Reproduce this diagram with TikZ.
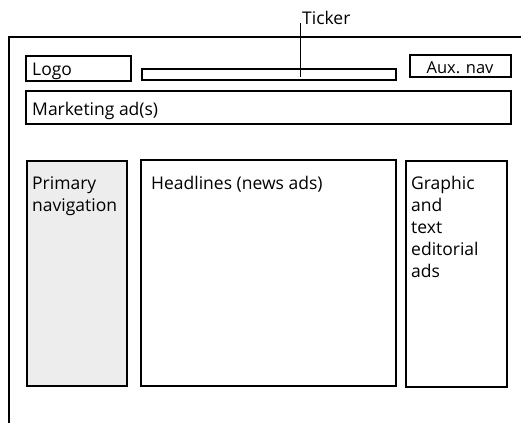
\documentclass[tikz,border=0pt]{standalone}
\usepackage{fontspec}
\setmainfont{Open Sans}
\begin{document}
\begin{tikzpicture}[x=1pt,y=-1pt,
  box/.style={draw=black,line width=1.6pt,inner sep=0pt},
  lbl/.style={font=\fontsize{17.5}{22}\selectfont,inner sep=0pt,align=left},
  navfill/.style={fill=black!7}]
  \useasboundingbox (0,0) rectangle (521,423);
  % page frame, cut off at the right and bottom
  \draw[line width=1.6pt] (9,423) -- (9,37) -- (521,37);
  % header row
  \draw[box] (26,56) rectangle (131,81);
  \node[lbl,anchor=base west] (logo) at (32,75) {Logo};
  \draw[box] (142,69) rectangle (396,80);
  \coordinate (tickbar) at (300,77);
  \draw[box] (410,55) rectangle (511,77);
  \node[lbl,anchor=base,font=\fontsize{16.5}{20}\selectfont] (aux) at (460,73) {Aux. nav};
  % marketing strip
  \draw[box] (26,91) rectangle (511,124);
  \node[lbl,anchor=base west] (mkt) at (32,115.5) {Marketing ad(s)};
  % body columns
  \draw[box,navfill] (27,161) rectangle (127,386);
  \node[lbl,anchor=north west] (nav) at (32,176.5) {Primary\\navigation};
  \draw[box] (141,160) rectangle (396,386);
  \node[lbl,anchor=base west] (head) at (151,189) {Headlines (news ads)};
  \draw[box] (406,161) rectangle (507,387);
  \node[lbl,anchor=north west] (gfx) at (411,175.7) {Graphic\\and\\text\\editorial\\ads};
  % callout
  \node[lbl,anchor=base west] (ticker) at (302,24) {Ticker};
  \coordinate (tickend) at (300,23);
  \draw[line width=0.8pt] (tickend) -- (tickbar);
\end{tikzpicture}
\end{document}
